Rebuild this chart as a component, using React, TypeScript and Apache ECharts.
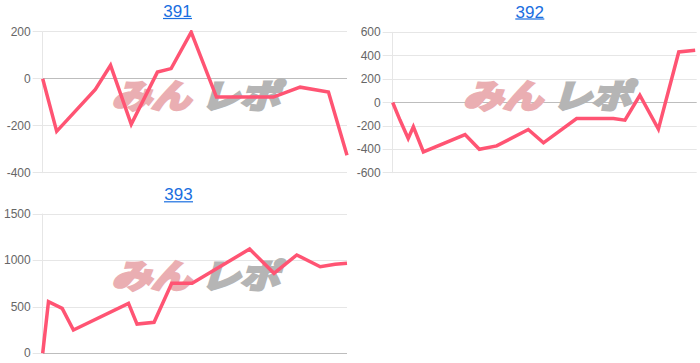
import React, { useEffect, useRef } from "react";
import * as echarts from "echarts";

// ---- data ----
const titles = ["391", "392", "393"];

const x391 = [0, 4.6, 17.3, 22.3, 29.1, 37.7, 42.2, 48.8, 57.1, 75.8, 84.6, 93.9, 100];
const y391 = [0, -224, -46, 57, -194, 28, 43, 198, -78, -78, -36, -57, -326];

const x392 = [0, 2.4, 5.1, 6.8, 10.1, 23.8, 28.5, 34.2, 44.6, 49.6, 60.5, 72.6, 76.4, 81.3, 87.4, 94.1, 99.5];
const y392 = [0, -150, -308, -208, -422, -274, -400, -371, -231, -345, -137, -137, -151, 62, -228, 432, 447];

const x393 = [0, 1.9, 6.4, 10.1, 28.2, 31, 36.6, 42.4, 49.1, 68, 76, 83.5, 91.2, 96.1, 100];
const y393 = [0, 556, 484, 251, 538, 315, 334, 754, 754, 1123, 861, 1059, 932, 958, 969];

const yMin = [-400, -600, 0];
const yMax = [200, 600, 1500];
const yStep = [200, 200, 500];

const LINE = "#ff5473";
const GRID = "#e6e6e6";
const ZERO = "#bdbdbd";
const FONT = "Arial, 'Liberation Sans', Helvetica, sans-serif";

const panels = [
  { left: 42.7, top: 31.7, width: 304.3, height: 141, titleX: 177.5, titleY: 11.5, wmX: 0, wmY: 0 },
  { left: 392.7, top: 32.3, width: 304, height: 140.4, titleX: 529.8, titleY: 12, wmX: 351.7, wmY: 0 },
  { left: 42.7, top: 214, width: 304.3, height: 139.3, titleX: 178.5, titleY: 194.8, wmX: 0, wmY: 180 },
];

function pairs(xs: number[], ys: number[]) {
  return xs.map((x, i) => [x, ys[i]]);
}

export default function App() {
  const ref = useRef<HTMLDivElement>(null);
  useEffect(() => {
    if (!ref.current) return;
    const chart = echarts.init(ref.current, undefined, { renderer: "svg" });
    const seriesData = [pairs(x391, y391), pairs(x392, y392), pairs(x393, y393)];

    const splitColors = (i: number) => {
      const n = Math.round((yMax[i] - yMin[i]) / yStep[i]) + 1;
      const arr: string[] = [];
      for (let k = 0; k < n; k++) {
        const v = yMin[i] + k * yStep[i];
        arr.push(v === 0 ? ZERO : GRID);
      }
      return arr;
    };

    const graphics: any[] = [];
    panels.forEach((p, i) => {
      graphics.push({
        type: "text",
        x: p.titleX,
        y: p.titleY,
        z: 10,
        style: {
          text: titles[i],
          fill: "#1a6ee0",
          font: `17px ${FONT}`,
          textAlign: "center",
          textVerticalAlign: "middle",
        },
      });
      graphics.push({
        type: "line",
        z: 10,
        shape: { x1: p.titleX - 14.5, y1: p.titleY + 7, x2: p.titleX + 14.5, y2: p.titleY + 7 },
        style: { stroke: "#1a6ee0", lineWidth: 1.2 },
      });
      graphics.push({
        type: "text",
        x: 151 + p.wmX,
        y: 94 + p.wmY,
        scaleX: 1.2,
        z: 1,
        style: {
          text: "みん",
          fill: "#eaaeb2",
          stroke: "#eaaeb2",
          lineWidth: 3,
          font: `italic bold 33px 'Noto Sans CJK JP'`,
          textAlign: "center",
          textVerticalAlign: "middle",
        },
      });
      graphics.push({
        type: "text",
        x: 240 + p.wmX,
        y: 94 + p.wmY,
        scaleX: 1.2,
        z: 1,
        style: {
          text: "レポ",
          fill: "#b5b5b5",
          stroke: "#b5b5b5",
          lineWidth: 3,
          font: `italic bold 33px 'Noto Sans CJK JP'`,
          textAlign: "center",
          textVerticalAlign: "middle",
        },
      });
    });

    chart.setOption({
      animation: false,
      grid: panels.map((p) => ({ left: p.left, top: p.top, width: p.width, height: p.height, containLabel: false })),
      xAxis: panels.map((_, i) => ({
        type: "value",
        gridIndex: i,
        min: 0,
        max: 100,
        show: false,
      })),
      yAxis: panels.map((_, i) => ({
        type: "value",
        gridIndex: i,
        min: yMin[i],
        max: yMax[i],
        interval: yStep[i],
        axisLine: { show: true, lineStyle: { color: GRID, width: 1 } },
        axisTick: { show: true, length: 10, lineStyle: { color: GRID } },
        axisLabel: {
          color: "#666",
          fontSize: 12,
          fontFamily: FONT,
          margin: 12,
          formatter: (v: number) => String(v),
        },
        splitLine: { show: true, lineStyle: { color: splitColors(i), width: 1 } },
      })),
      series: seriesData.map((d, i) => ({
        type: "line",
        xAxisIndex: i,
        yAxisIndex: i,
        data: d,
        symbol: "none",
        showSymbol: false,
        z: 5,
        lineStyle: { color: LINE, width: 3.5, join: "miter", cap: "butt" },
      })),
      graphic: graphics,
    });
    return () => chart.dispose();
  }, []);
  return (
    <div
      ref={ref}
      style={{ position: "absolute", left: 0, top: 0, width: 700, height: 363, background: "#fff" }}
    />
  );
}
